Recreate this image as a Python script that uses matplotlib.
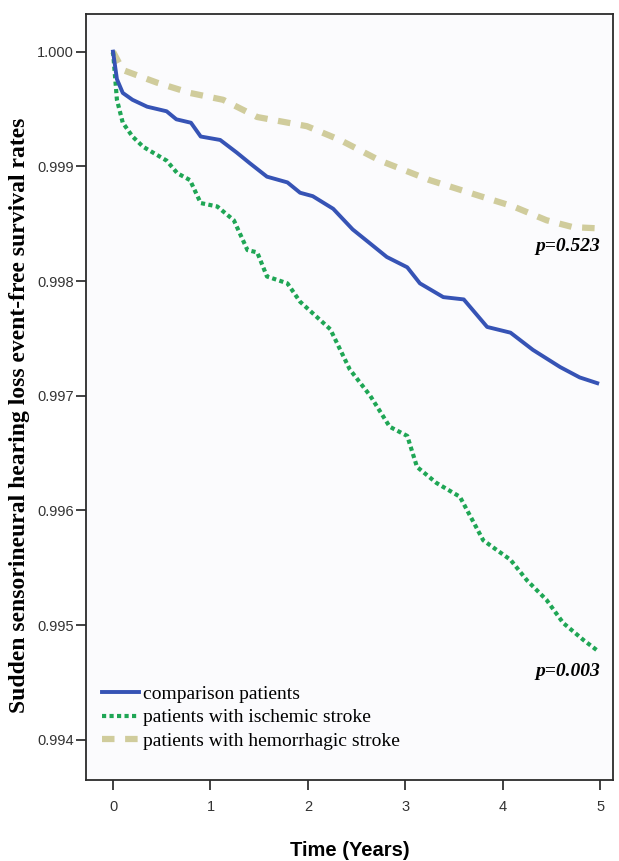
import matplotlib
matplotlib.use("Agg")
from matplotlib import pyplot as plt

# survival curves (time in years, survival rate)
comp_t = [0, 0.04, 0.1, 0.2, 0.35, 0.55, 0.65, 0.8, 0.9, 1.1, 1.27, 1.4, 1.58, 1.79, 1.92,
          2.05, 2.26, 2.46, 2.65, 2.81, 3.02, 3.15, 3.39, 3.6, 3.84, 4.08, 4.31, 4.59, 4.79, 4.97]
comp_s = [1.0, 0.99976, 0.99964, 0.99958, 0.99952, 0.99948, 0.99941, 0.99938, 0.99926, 0.99923,
          0.99912, 0.99903, 0.99891, 0.99886, 0.99877, 0.99874, 0.99863, 0.99845, 0.99832, 0.99821,
          0.99812, 0.99798, 0.99786, 0.99784, 0.99760, 0.99755, 0.99740, 0.99725, 0.99716, 0.99711]

isch_t = [0, 0.04, 0.1, 0.2, 0.31, 0.55, 0.66, 0.79, 0.9, 1.07, 1.24, 1.38, 1.48, 1.58, 1.79,
          1.92, 2.23, 2.43, 2.64, 2.84, 3.02, 3.12, 3.32, 3.56, 3.8, 4.08, 4.25, 4.45, 4.62,
          4.83, 4.97]
isch_s = [1.0, 0.99958, 0.99938, 0.99926, 0.99917, 0.99905, 0.99894, 0.99888, 0.99868, 0.99865,
          0.99853, 0.99827, 0.99825, 0.99804, 0.99798, 0.99782, 0.99758, 0.99723, 0.99700, 0.99673,
          0.99665, 0.99638, 0.99624, 0.99612, 0.99574, 0.99557, 0.99539, 0.99522, 0.99502,
          0.99487, 0.99478]

hem_t = [0, 0.1, 0.45, 0.79, 1.13, 1.48, 1.99, 2.33, 2.74, 3.25, 3.77, 4.11, 4.45, 4.72, 4.97]
hem_s = [1.0, 0.99984, 0.99973, 0.99964, 0.99958, 0.99943, 0.99935, 0.99923, 0.99905, 0.99888,
         0.99874, 0.99865, 0.99853, 0.99847, 0.99846]

y_ticks = [0.994, 0.995, 0.996, 0.997, 0.998, 0.999, 1.000]
x_ticks = [0, 1, 2, 3, 4, 5]
labels = ["comparison patients", "patients with ischemic stroke", "patients with hemorrhagic stroke"]

fig = plt.figure(figsize=(6.19, 8.61), dpi=100)
ax = fig.add_axes([0.139, 0.094, 0.851, 0.890])
ax.set_facecolor("#fbfbfd")

ax.plot(hem_t, hem_s, color="#d0cc9c", lw=4.5, linestyle=(0, (2.0, 1.7)), label=labels[2])
ax.plot(isch_t, isch_s, color="#1fa655", lw=3, linestyle=(0, (1, 0.8)), label=labels[1])
ax.plot(comp_t, comp_s, color="#3653b5", lw=2.8, label=labels[0])

ax.set_xlim(-0.277, 5.13)
ax.set_ylim(0.99365, 1.00033)
ax.set_xticks(x_ticks)
ax.set_yticks(y_ticks)
ax.set_yticklabels(["%.3f" % v for v in y_ticks])
ax.tick_params(axis="both", direction="out", length=7, width=1.3, labelsize=10.5, colors="#333333")
ax.tick_params(axis="x", pad=7)
ax.tick_params(axis="y", pad=2)
for sp in ax.spines.values():
    sp.set_linewidth(1.3)
    sp.set_color("#2b2b2b")
for lab in ax.get_xticklabels() + ax.get_yticklabels():
    lab.set_fontfamily("Liberation Sans")

ax.set_xlabel("Time (Years)", fontsize=14.5, fontweight="bold", family="Liberation Sans",
              labelpad=20)
ax.set_ylabel("Sudden sensorineural hearing loss event-free survival rates", fontsize=17,
              fontweight="bold", family="Liberation Serif")
ax.yaxis.set_label_coords(-0.106, 0.476)

ax.text(5.0, 0.9983, "p=0.523", ha="right", va="center", fontsize=14, fontweight="bold",
        fontstyle="italic", family="Liberation Serif")
ax.text(5.0, 0.9946, "p=0.003", ha="right", va="center", fontsize=14, fontweight="bold",
        fontstyle="italic", family="Liberation Serif")

handles, labs = ax.get_legend_handles_labels()
order = [2, 1, 0]
leg = ax.legend([handles[i] for i in order], [labs[i] for i in order], loc="lower left",
                bbox_to_anchor=(-0.006, 0.014), frameon=False, handlelength=1.9,
                handletextpad=0.2, labelspacing=0.3, borderaxespad=0.6,
                prop={"family": "Liberation Serif", "size": 14})

fig.savefig("out.png", dpi=100, facecolor="white")
